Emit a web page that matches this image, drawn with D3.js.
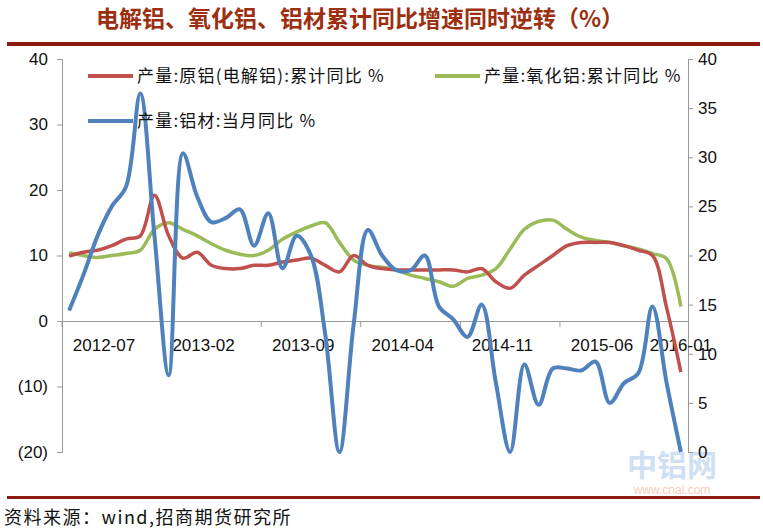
<!DOCTYPE html><html><head><meta charset="utf-8"><script src="https://cdn.jsdelivr.net/npm/d3@7"></script>
<style>body{margin:0;background:#fff}text{font-family:"Liberation Sans",Arial,sans-serif}</style></head><body><svg id="c" width="763" height="530"></svg>
<script>
const months=d3.range(44).map(i=>{const m=5+i;return (2012+Math.floor(m/12))+"-"+String(m%12+1).padStart(2,"0");});
const redVals=[9.9,10.5,10.8,11.5,12.5,13,19.2,13,9.6,10.5,8.5,8,8,8.5,8.5,9,9.3,9.6,8.5,7.5,10,8.5,8,7.8,7.8,7.8,7.8,7.8,7.5,8,6,5,7,8.5,10,11.5,12,12,12,11.5,10.8,10,2,-7.8];
const greenVals=[10.4,10,9.7,10,10.3,10.8,14,15,14,13,11.8,10.8,10.2,10,10.8,12.5,13.6,14.5,15,12,9.3,8.5,8.2,7.8,7,6.5,6,5.3,6.5,7,8,11,14,15.2,15.4,14,12.8,12.3,12,11.5,11,10.3,9.5,2.2];
const blueVals=[14.4,18,22,25,27,36.5,22,7.8,30.4,26,23.4,23.8,24.7,21,24.3,18.7,22,20,12,0,13,22.6,20,18.5,18.5,20,14.8,13.5,11.7,15,7,0,8.9,4.8,8.5,8.5,8.3,9.2,5,7,8,14.8,7,0];
const leftTicks=[40,30,20,10,0,-10,-20];
const rightTicks=[40,35,30,25,20,15,10,5,0];
const xLabels=["2012-07","2013-02","2013-09","2014-04","2014-11","2015-06","2016-01"];
const legendNames=["产量:原铝(电解铝):累计同比 %","产量:氧化铝:累计同比 %","产量:铝材:当月同比 %"];
const colors=["#c0504d","#9bbb59","#4f81bd"];

const svg=d3.select("#c");
const L=62,R=688,T=59,B=452;
const x=d3.scaleBand().domain(months).range([L,R]);
const cx=m=>x(m)+x.bandwidth()/2;
const yL=d3.scaleLinear().domain([-20,40]).range([B,T]);
const yR=d3.scaleLinear().domain([0,40]).range([B,T]);

svg.append("text").attr("x",360).attr("y",27).attr("text-anchor","middle").attr("fill","#9c2f10").attr("font-size",23).attr("font-weight","bold").style("font-family","Noto Sans CJK SC").text("电解铝、氧化铝、铝材累计同比增速同时逆转（%）");
svg.append("rect").attr("x",7).attr("y",42).attr("width",753).attr("height",4).attr("fill","#8b1a10");
svg.append("rect").attr("x",7).attr("y",496).attr("width",753).attr("height",3).attr("fill","#8b1a10");
svg.append("text").attr("x",4).attr("y",524).attr("font-size",18).attr("letter-spacing",1.5).attr("fill","#111").style("font-family","Noto Sans CJK SC").text("资料来源：wind,招商期货研究所");
svg.append("text").attr("x",672).attr("y",476).attr("text-anchor","middle").attr("font-size",30).attr("font-weight","bold").attr("fill","#cfe0f3").style("font-family","Noto Sans CJK SC").text("中铝网");
svg.append("text").attr("x",672).attr("y",494).attr("text-anchor","middle").attr("font-size",12).attr("fill","#f6cdb8").text("www.cnal.com");

const ax="#999";
const gl=svg.append("g").attr("transform",`translate(${L},0)`).call(d3.axisLeft(yL).tickValues(leftTicks).tickSize(5).tickFormat(d=>d<0?`(${-d})`:d));
const gr=svg.append("g").attr("transform",`translate(${R},0)`).call(d3.axisRight(yR).tickValues(rightTicks).tickSize(5));
[gl,gr].forEach(g=>{g.select(".domain").attr("stroke",ax);g.selectAll("line").attr("stroke",ax);g.selectAll("text").attr("font-size",17).attr("fill","#111");});
gl.selectAll("text").attr("x",-14);gr.selectAll("text").attr("x",10);
const gx=svg.append("g").attr("transform",`translate(0,${yL(0)})`).call(d3.axisBottom(x).tickValues(xLabels).tickSize(0).tickFormat(""));
gx.select(".domain").attr("stroke",ax);
const tickIdx=[0,7,14,21,28,35,42];
tickIdx.forEach(i=>svg.append("line").attr("x1",x(months[i])).attr("x2",x(months[i])).attr("y1",yL(0)).attr("y2",yL(0)+6).attr("stroke",ax));
xLabels.forEach((l,k)=>svg.append("text").attr("x",k<6?x(months[tickIdx[k]])+42:cx(l)).attr("y",yL(0)+30).attr("text-anchor","middle").attr("font-size",17).attr("fill","#111").text(l));

const line=(ys,vals)=>d3.line().x((d,i)=>cx(months[i])).y(d=>ys(d)).curve(d3.curveCatmullRom)(vals);
svg.append("path").attr("d",line(yL,greenVals)).attr("fill","none").attr("stroke",colors[1]).attr("stroke-width",3.5);
svg.append("path").attr("d",line(yL,redVals)).attr("fill","none").attr("stroke",colors[0]).attr("stroke-width",3.5);
svg.append("path").attr("d",line(yR,blueVals)).attr("fill","none").attr("stroke",colors[2]).attr("stroke-width",4);

const leg=[[88,76],[435,76],[88,121]];
legendNames.forEach((n,i)=>{
 svg.append("line").attr("x1",leg[i][0]).attr("x2",leg[i][0]+45).attr("y1",leg[i][1]).attr("y2",leg[i][1]).attr("stroke",colors[i]).attr("stroke-width",4);
 svg.append("text").attr("x",leg[i][0]+49).attr("y",leg[i][1]+6).attr("font-size",17).attr("letter-spacing",1.2).attr("fill","#111").style("font-family","Noto Sans CJK SC").text(n);
});
</script></body></html>
